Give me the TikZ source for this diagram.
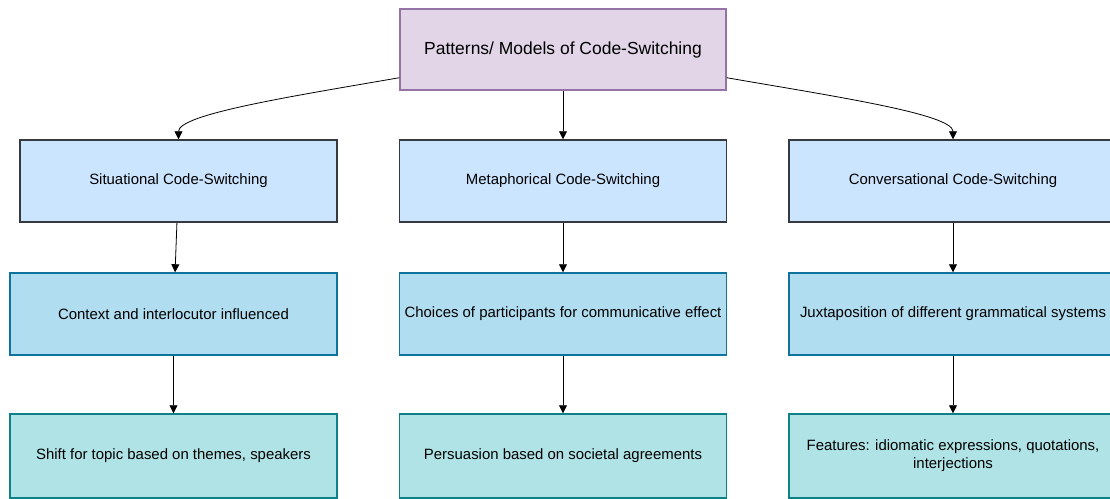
\documentclass[tikz,border=0pt]{standalone}
\usepackage{fontspec}
\setmainfont{Liberation Sans}
\usetikzlibrary{arrows.meta}
\definecolor{headfill}{HTML}{E1D5E7}
\definecolor{headline}{HTML}{9673A6}
\definecolor{kindfill}{HTML}{CCE5FF}
\definecolor{kindline}{HTML}{36393D}
\definecolor{notefill}{HTML}{B1DDF0}
\definecolor{noteline}{HTML}{10739E}
\definecolor{casefill}{HTML}{B0E3E6}
\definecolor{caseline}{HTML}{0E8088}
\begin{document}
\begin{tikzpicture}[x=0.75pt,y=-0.75pt,
    box/.style={draw,line width=1.1pt,inner sep=2pt,align=center,
      minimum width=245.25pt,minimum height=61.5pt,
      font=\fontsize{11.2}{13.6}\selectfont},
    head/.style={box,fill=headfill,draw=headline,minimum width=244.5pt,
      minimum height=60.75pt,font=\fontsize{13.1}{15.6}\selectfont},
    kind/.style={box,fill=kindfill,draw=kindline},
    note/.style={box,fill=notefill,draw=noteline},
    case/.style={box,fill=casefill,draw=caseline,minimum height=63pt}]
      \useasboundingbox (0,0) rectangle (1110,499);
      \clip (0,0) rectangle (1110,499);
      \draw
        (563,49.5) node[head] (0){Patterns/ Models of Code-Switching}
        (178.5,181) node[kind,minimum width=237.75pt] (1){Situational Code-Switching}
        (563,181) node[kind] (2){Metaphorical Code-Switching}
        (953,181) node[kind,minimum width=246pt] (3){Conversational Code-Switching}
        (173.5,314) node[note] (4){Context and interlocutor influenced}
        (563,314) node[note] (5){Choices of participants for communicative effect}
        (953,314) node[note,minimum width=246pt] (6){Juxtaposition of different grammatical systems}
        (173.5,456) node[case] (7){Shift for topic based on themes, speakers}
        (563,456) node[case] (8){Persuasion based on societal agreements}
        (953,456) node[case,minimum width=246pt] (9){Features: idiomatic expressions, quotations,\\interjections};
      \coordinate (0l) at ([yshift=9.75pt]0.south west);
      \coordinate (0r) at ([yshift=9.75pt]0.south east);
      \begin{scope}[-{Triangle[width=6pt,length=6pt]},line width=0.6pt]
        \draw (0l) .. controls +(-110,19) and +(0,-25) .. (1.north);
        \draw (0) to (2);
        \draw (0r) .. controls +(110,19) and +(0,-25) .. (3.north);
        \draw (1) to (4);
        \draw (2) to (5);
        \draw (3) to (6);
        \draw (4) to (7);
        \draw (5) to (8);
        \draw (6) to (9);
      \end{scope}
    \end{tikzpicture}
\end{document}
